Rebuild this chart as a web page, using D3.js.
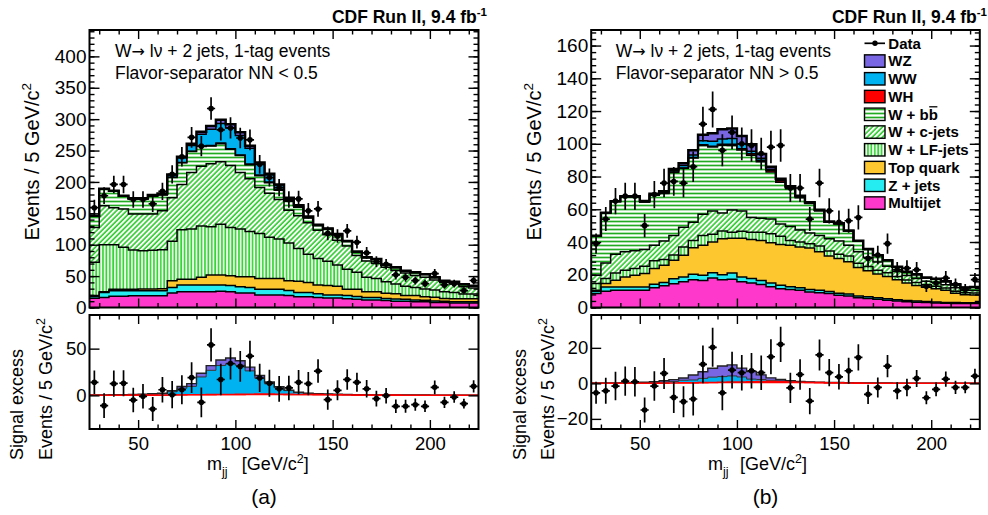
<!DOCTYPE html>
<html><head><meta charset="utf-8">
<script src="https://cdn.jsdelivr.net/npm/d3@7"></script>
<style>
body{margin:0;background:#fff;}
svg text{font-family:"Liberation Sans",Arial,Helvetica,sans-serif;fill:#000;}
</style></head><body>
<svg id="c" width="988" height="515" xmlns="http://www.w3.org/2000/svg"></svg>
<script>
// ---------- categories: lower edges of the 5 GeV/c^2 m_jj bins ----------
const binLow = [25,30,35,40,45,50,55,60,65,70,75,80,85,90,95,100,105,110,115,120,125,130,135,140,145,150,155,160,165,170,175,180,185,190,195,200,205,210,215,220];
const binHigh = 225;

// ---------- tick labels ----------
const xTickVals = [50,100,150,200];
const leftTopTicks = [0,50,100,150,200,250,300,350,400];
const rightTopTicks = [0,20,40,60,80,100,120,140,160];
const leftResTicks = [0,50];
const rightResTicks = [-20,0,20];

// ---------- (a) Flavor-separator NN < 0.5 ----------
const leftMJ  = [14.6,16,17.8,17.8,18.8,18.8,18.8,18.8,23,25,25,25,25,26,25,23,23,20,20,20,19,17,17,16,15,15,14,13,12,12,11,10,10,9,9,8,8,7,7,7];
const leftZ   = [3,8,9,9,8,8,8,8,9,11,11,11,11,10,10,10,9,9,9,9,8,7,7,6,5,5,5,4.5,4,4,3.5,3.5,3,3,2.5,2.5,2,2,2,2];
const leftTop = [1.4,1,2.2,2.2,2.2,2.5,2.5,3,10.7,9,9,12,15.7,15.7,15.6,16,17,17,17,17,15.7,18,16,14,15,13.7,10,11.5,9,9,8,8.5,6,7,5.5,6,4.5,5,5,5];
const leftWLF = [53,75,71,67,62.5,61,62,62,63,79,80,82,77,81,77,76,72,72,66,63,60,52,45,42,38.5,34,32,27,23,21,18.5,15.4,14.7,13,12.4,11.3,10.5,10,7.5,7.5];
const leftWc  = [55.5,62,59,61,57.5,58.7,57.7,62.2,69.3,72,90,95,100.3,99.3,98.4,90,84,73,70,63,52.3,52,50,45,42.5,39.3,37,27,26,24,23,21.6,21.3,19,18.6,16.2,15,13.5,11.5,9.5];
const leftWbb = [18,26.5,26.4,20.2,24,23.7,28.3,25.3,32,34.5,33.4,31.3,28.2,29,26,27,22.3,18.7,16.7,14.8,14.4,13.5,7.6,7.1,8.6,8.8,7,5.3,5.4,6.5,3.6,4.6,3.3,4.7,4.7,3.8,2.5,3.3,3.8,3.5];
const leftWH  = [0.1,0.1,0.1,0.1,0.2,0.2,0.3,0.3,0.4,0.5,0.6,0.7,0.8,0.9,1,1.1,1.2,1.3,1.3,1.2,1.1,1,0.9,0.8,0.6,0.5,0.4,0.3,0.3,0.2,0.2,0.2,0.1,0.1,0.1,0.1,0.1,0.1,0.1,0.1];
const leftWW  = [0.3,0.3,0.4,0.5,0.6,0.8,1,1.5,3.5,7,9,19,26,31,33,31,25,17,11,7,4,2,1.2,0.8,0.6,0.5,0.4,0.3,0.3,0.3,0.2,0.2,0.2,0.2,0.2,0.1,0.1,0.1,0.1,0.1];
const leftWZ  = [0.1,0.1,0.1,0.2,0.2,0.3,0.4,0.5,1,2,3,4,5,6,6,5,4,3,2,1,0.5,0.5,0.3,0.3,0.2,0.2,0.2,0.1,0.1,0.1,0.1,0.1,0.1,0.1,0.1,0.1,0.1,0.1,0.1,0.1];
const leftData   = [159,178,196,196,172,172,165,185,212,240,271,257,317,283,286,270,267,228,207,191,172,173,154,157,118,114,122,104,87,73,69,52,48,43,38,54,36,38,27,43];
const leftExcess = [14,-11,12.5,13,-5,-1,-14.6,6,0.7,6,19,-7.5,54,17,34,31,42,18.6,13,7,8,14,12.5,26,-4.6,5.4,17,14,7,-3.5,-0.3,-11.7,-11.7,-10,-11.7,8.6,-7.5,-1.8,-8.9,9.7];

// ---------- (b) Flavor-separator NN > 0.5 ----------
const rightMJ  = [8.5,10,10.5,10.5,10.5,10.5,12,13.3,14.5,15.8,17,16.5,18,17,17.3,15.8,15,14,12.6,11.5,11,10.5,9.5,9,8.5,7.5,7,6,5.5,5,4.5,4,3.5,3.2,3,2.8,2.6,2.5,2.4,2.4];
const rightZ   = [1.5,2.5,2,2,2,2,2.2,2,3,2.8,3.3,3.2,3.3,3,3.7,2.9,2.7,2.5,2.4,2.1,1.6,1.5,1.5,1.5,1.3,1.2,1.2,1,1,0.9,0.8,0.8,0.7,0.7,0.6,0.6,0.5,0.5,0.5,0.5];
const rightTop = [0.5,2.1,4.2,6.2,7.2,8.2,9.6,10.5,11.4,13.3,16.2,18.3,18.7,22,21.3,23.6,23.8,24.5,24.5,24.9,25.4,25,25.4,23.5,21.7,21.3,19.8,17.5,16,14.6,13.7,12.2,10.8,9.6,8.7,8.1,7.4,5.7,4.9,4.7];
const rightWLF = [4.1,3.1,4.3,4.1,4.1,4.5,4.7,3.5,3.1,5.1,4.5,6,4.7,4.8,3.7,4.2,4.5,5,5.5,5,3,3,2.6,3.5,3,2.5,3.5,2.5,2.5,2.3,2.2,2,1.8,1.7,1.6,1.5,1.4,1.3,1.2,1.2];
const rightWc  = [5.1,9.5,11.5,11.2,10.8,10.2,9.5,11.3,12,12,11,13,14.3,10.9,13.6,12.5,9,8.5,9,7.5,8.5,7.3,6.5,6.5,7.5,8.1,6.5,7,5.5,5,4,3,2.8,2.5,2.2,2.2,2,2,1.6,1.6];
const rightWbb = [24,30.5,32.2,33.6,33,29,30.6,29,38.5,36,39.3,42,39,41.4,39.4,37.2,38,34.5,28.8,25.5,23,19.8,18,15,10,10.4,8.7,6.5,5,3.9,3.5,2.7,2.1,2.4,2,2.2,2,2,1.5,2];
const rightWH  = [0.05,0.05,0.05,0.05,0.1,0.1,0.1,0.15,0.2,0.25,0.3,0.4,0.5,0.6,0.7,0.8,0.9,1,1,0.9,0.8,0.6,0.5,0.4,0.3,0.25,0.2,0.15,0.1,0.1,0.1,0.05,0.05,0.05,0.05,0.05,0.05,0.05,0.05,0.05];
const rightWW  = [0.05,0.05,0.1,0.1,0.1,0.2,0.3,0.5,0.9,1.5,1.6,2.4,3,3.2,3.5,2.8,1.5,1.2,0.7,0.5,0.3,0.2,0.15,0.1,0.1,0.1,0.05,0.05,0.05,0.05,0.05,0.05,0.05,0.05,0.05,0.05,0.05,0.05,0.05,0.05];
const rightWZ  = [0.1,0.1,0.1,0.2,0.2,0.3,0.5,0.8,1,1.3,2.8,3.7,5,6,6.2,5,4.3,2.6,1.4,0.8,0.4,0.3,0.2,0.15,0.1,0.1,0.1,0.1,0.05,0.05,0.05,0.05,0.05,0.05,0.05,0.05,0.05,0.05,0.05,0.05];
const rightData   = [39,54,65,68,68,50,69,76,77,76,86,112,121,96,107,100,99,94,98,99,73,73,54,76,59,52,53,55,30,32,39,23,24,23,13,15,18,14,11,17];
const rightExcess = [-5.3,-4.2,-1.5,1.3,0.9,-15,-1.5,5.6,-7.9,-10.3,-8.8,10.7,20.3,-5.3,7.5,6,7.1,6,15,22,-2.5,5,-10,16,6,3.7,7.1,14.6,-6.2,-2.3,9.7,-4.2,-2.3,2.8,-8.1,-3.4,2.4,-2.3,-2.3,4.1];

// ---------- legend ----------
const legendLabels = ["Data","WZ","WW","WH","W + bb","W + c-jets","W + LF-jets","Top quark","Z + jets","Multijet"];
const legendKeys   = [null,"WZ","WW","WH","Wbb","Wc","WLF","Top","Z","MJ"];

// ---------- styling ----------
const topKeys = ["MJ","Z","Top","WLF","Wc","Wbb","WH","WW","WZ"];
const resKeys = ["WH","WW","WZ"];
const fills = {MJ:"#ff38cc", Z:"#25ecf0", Top:"#fdc72f", WLF:"url(#pV)", Wc:"url(#pD)", Wbb:"url(#pH)", WH:"#ff0000", WW:"#00b3f0", WZ:"#7866e2"};

const svg = d3.select("#c");
const defs = svg.append("defs");
// vertical stripes (W+LF)
const pV = defs.append("pattern").attr("id","pV").attr("patternUnits","userSpaceOnUse").attr("width",3.4).attr("height",10);
pV.append("rect").attr("width",3.4).attr("height",10).attr("fill","#fff");
pV.append("line").attr("x1",1).attr("x2",1).attr("y1",0).attr("y2",10).attr("stroke","#2ed42e").attr("stroke-width",1.7);
// horizontal stripes (W+bb)
const pH = defs.append("pattern").attr("id","pH").attr("patternUnits","userSpaceOnUse").attr("width",10).attr("height",4);
pH.append("rect").attr("width",10).attr("height",4).attr("fill","#fff");
pH.append("line").attr("x1",0).attr("x2",10).attr("y1",1.5).attr("y2",1.5).attr("stroke","#22aa22").attr("stroke-width",1.7);
// diagonal hatch (W+c)
const pD = defs.append("pattern").attr("id","pD").attr("patternUnits","userSpaceOnUse").attr("width",3.6).attr("height",10).attr("patternTransform","rotate(45)");
pD.append("rect").attr("width",3.6).attr("height",10).attr("fill","#fff");
pD.append("line").attr("x1",1).attr("x2",1).attr("y1",0).attr("y2",10).attr("stroke","#2ccc2c").attr("stroke-width",1.6);

const TOP_Y = [307.5, 30], BOT_Y = [429, 315];

function series(prefix){
  return prefix === "left"
    ? {MJ:leftMJ,Z:leftZ,Top:leftTop,WLF:leftWLF,Wc:leftWc,Wbb:leftWbb,WH:leftWH,WW:leftWW,WZ:leftWZ}
    : {MJ:rightMJ,Z:rightZ,Top:rightTop,WLF:rightWLF,Wc:rightWc,Wbb:rightWbb,WH:rightWH,WW:rightWW,WZ:rightWZ};
}

const panels = [
  {id:"a", x0:89.5, x1:478.5, topDom:[0,442], botDom:[-36,86], s:series("left"), data:leftData, excess:leftExcess,
   topTicks:leftTopTicks, topMinor:d3.range(0,441,10), resTicks:leftResTicks,
   text2:"Flavor-separator NN < 0.5", textX:115, gap:"", titleEnd:487, ytX:38.5, yt2X:[23,52], mX:207, bracketX:241.7, tag:"(a)", tagX:264},
  {id:"b", x0:591.2, x1:979.8, topDom:[0,169.5], botDom:[-25.7,38.5], s:series("right"), data:rightData, excess:rightExcess,
   topTicks:rightTopTicks, topMinor:d3.range(0,169,4), resTicks:rightResTicks,
   text2:"Flavor-separator NN > 0.5", textX:615.7, gap:" ", titleEnd:987, ytX:540.5, yt2X:[526,554], mX:708, bracketX:740, tag:"(b)", tagX:765.5, legend:true}
];

function stepPoints(layer){
  const p = layer.map((d,i)=>({x:binLow[i], y0:d[0], y1:d[1]}));
  const last = p[p.length-1];
  p.push({x:binHigh, y0:last.y0, y1:last.y1});
  return p;
}

function styleAxis(g, fs){
  g.select(".domain").remove();
  g.attr("font-family",null).attr("font-size",null);
  g.selectAll(".tick line").attr("stroke","#000").attr("stroke-width",1.4);
  g.selectAll(".tick text").attr("font-size",fs).attr("fill","#000");
}

function frameTicks(g, xs, ys, yMaj, yMin, yOff, yLen, xLen, showX){
  const [yb, yt] = ys.range();
  const fmt = d3.format("d");
  const xMinor = d3.range(30,225,10).filter(v=>v%50);
  const gxb = g.append("g").attr("transform",`translate(0,${yb})`)
    .call(d3.axisBottom(xs).tickValues(xTickVals).tickSize(-xLen).tickPadding(8).tickFormat(showX ? fmt : ""));
  styleAxis(gxb, 18.5);
  styleAxis(g.append("g").attr("transform",`translate(0,${yb})`)
    .call(d3.axisBottom(xs).tickValues(xMinor).tickSize(-xLen/2).tickFormat("")), 10);
  styleAxis(g.append("g").attr("transform",`translate(0,${yt})`)
    .call(d3.axisTop(xs).tickValues(xTickVals).tickSize(-xLen).tickFormat("")), 10);
  styleAxis(g.append("g").attr("transform",`translate(0,${yt})`)
    .call(d3.axisTop(xs).tickValues(xMinor).tickSize(-xLen/2).tickFormat("")), 10);
  const [x0, x1] = xs.range();
  styleAxis(g.append("g").attr("transform",`translate(${x0},0)`)
    .call(d3.axisLeft(ys).tickValues(yMaj).tickSize(-yLen).tickPadding(3).tickFormat(d3.format("d"))), yOff);
  styleAxis(g.append("g").attr("transform",`translate(${x1},0)`)
    .call(d3.axisRight(ys).tickValues(yMaj).tickSize(-yLen).tickFormat("")), 10);
  if (yMin){
    styleAxis(g.append("g").attr("transform",`translate(${x0},0)`)
      .call(d3.axisLeft(ys).tickValues(yMin).tickSize(-yLen/2).tickFormat("")), 10);
    styleAxis(g.append("g").attr("transform",`translate(${x1},0)`)
      .call(d3.axisRight(ys).tickValues(yMin).tickSize(-yLen/2).tickFormat("")), 10);
  }
  g.append("rect").attr("x",x0).attr("y",yt).attr("width",x1-x0).attr("height",yb-yt)
    .attr("fill","none").attr("stroke","#000").attr("stroke-width",2);
}

function drawData(g, xs, ys, vals, errs){
  const dg = g.append("g");
  vals.forEach((v,i)=>{
    const xc = xs(binLow[i]+2.5), e = errs[i];
    dg.append("line").attr("x1",xc).attr("x2",xc).attr("y1",ys(v-e)).attr("y2",ys(v+e))
      .attr("stroke","#000").attr("stroke-width",1.7);
    dg.append("line").attr("x1",xs(binLow[i]+0.4)).attr("x2",xs(binLow[i]+4.6)).attr("y1",ys(v)).attr("y2",ys(v))
      .attr("stroke","#000").attr("stroke-width",1.7);
    dg.append("circle").attr("cx",xc).attr("cy",ys(v)).attr("r",2.8).attr("fill","#000");
  });
}

panels.forEach(P=>{
  const g = svg.append("g");
  const xs = d3.scaleLinear().domain([25,225]).range([P.x0,P.x1]);
  const yT = d3.scaleLinear().domain(P.topDom).range(TOP_Y);
  const yB = d3.scaleLinear().domain(P.botDom).range(BOT_Y);

  defs.append("clipPath").attr("id","clipT"+P.id).append("rect")
    .attr("x",P.x0).attr("y",TOP_Y[1]).attr("width",P.x1-P.x0).attr("height",TOP_Y[0]-TOP_Y[1]);
  defs.append("clipPath").attr("id","clipB"+P.id).append("rect")
    .attr("x",P.x0).attr("y",BOT_Y[1]).attr("width",P.x1-P.x0).attr("height",BOT_Y[0]-BOT_Y[1]);

  // ---------- top: stacked backgrounds ----------
  const rows = binLow.map((b,i)=>{const r={}; topKeys.forEach(k=>r[k]=P.s[k][i]); return r;});
  const stack = d3.stack().keys(topKeys)(rows);
  const gT = g.append("g").attr("clip-path",`url(#clipT${P.id})`);
  const areaT = d3.area().x(d=>xs(d.x)).y0(d=>yT(d.y0)).y1(d=>yT(d.y1)).curve(d3.curveStepAfter);
  const lineT = d3.line().x(d=>xs(d.x)).y(d=>yT(d.y1)).curve(d3.curveStepAfter);
  stack.forEach(layer=>{
    gT.append("path").attr("d",areaT(stepPoints(layer))).attr("fill",fills[layer.key]).attr("stroke","none");
  });
  stack.forEach((layer,li)=>{
    const last = li === stack.length-1;
    gT.append("path").attr("d",lineT(stepPoints(layer))).attr("fill","none")
      .attr("stroke","#000").attr("stroke-width", last ? 2.5 : 1.5);
  });
  drawData(gT, xs, yT, P.data, P.data.map(v=>Math.sqrt(v)));
  frameTicks(g, xs, yT, P.topTicks, P.topMinor, 19, 10, 9, false);

  // ---------- bottom: signal excess ----------
  const rowsB = binLow.map((b,i)=>{const r={}; resKeys.forEach(k=>r[k]=P.s[k][i]); return r;});
  const stackB = d3.stack().keys(resKeys)(rowsB);
  const gB = g.append("g").attr("clip-path",`url(#clipB${P.id})`);
  const areaB = d3.area().x(d=>xs(d.x)).y0(d=>yB(d.y0)).y1(d=>yB(d.y1)).curve(d3.curveStepAfter);
  const lineB = d3.line().x(d=>xs(d.x)).y(d=>yB(d.y1)).curve(d3.curveStepAfter);
  stackB.forEach(layer=>{
    gB.append("path").attr("d",areaB(stepPoints(layer))).attr("fill",fills[layer.key]).attr("stroke","none");
  });
  gB.append("path").attr("d",lineB(stepPoints(stackB[1]))).attr("fill","none").attr("stroke","#333").attr("stroke-width",1);
  gB.append("path").attr("d",lineB(stepPoints(stackB[2]))).attr("fill","none").attr("stroke","#222").attr("stroke-width",1.4);
  gB.append("path").attr("d",lineB(stepPoints(stackB[0]))).attr("fill","none").attr("stroke","#ff0000").attr("stroke-width",1.6);
  drawData(gB, xs, yB, P.excess, P.data.map(v=>Math.sqrt(v)));
  frameTicks(g, xs, yB, P.resTicks, null, 18.5, 10, 9, true);

  // ---------- texts ----------
  const t1 = g.append("text").attr("x",P.titleEnd).attr("y",22.7).attr("text-anchor","end")
    .attr("font-size",17.5).attr("font-weight","bold");
  t1.append("tspan").text("CDF Run II, 9.4 fb");
  t1.append("tspan").attr("dy",-7).attr("font-size",11.5).text("-1");

  const l1 = g.append("text").attr("x",P.textX).attr("y",57).attr("font-size",17.5);
  l1.append("tspan").text("W");
  l1.append("tspan").attr("font-family","DejaVu Sans").attr("font-size",16).text("\u2192");
  l1.append("tspan").text(P.gap + " l\u03bd + 2 jets, 1-tag events");
  g.append("text").attr("x",P.textX).attr("y",78.5).attr("font-size",17.5).text(P.text2);

  const yt = g.append("text").attr("transform",`translate(${P.ytX},83) rotate(-90)`).attr("text-anchor","end").attr("font-size",20);
  yt.append("tspan").text("Events / 5 GeV/c");
  yt.append("tspan").attr("dy",-8).attr("font-size",13.5).text("2");

  g.append("text").attr("transform",`translate(${P.yt2X[0]},460) rotate(-90)`).attr("font-size",18).text("Signal excess");
  const yt2 = g.append("text").attr("transform",`translate(${P.yt2X[1]},460) rotate(-90)`).attr("font-size",18);
  yt2.append("tspan").text("Events / 5 GeV/c");
  yt2.append("tspan").attr("dy",-7).attr("font-size",12.5).text("2");

  const xt = g.append("text").attr("x",P.mX).attr("y",470).attr("font-size",18);
  xt.append("tspan").text("m");
  xt.append("tspan").attr("dy",6).attr("font-size",12.5).text("jj");
  xt.append("tspan").attr("x",P.bracketX).attr("dy",-6).text("[GeV/c");
  xt.append("tspan").attr("dy",-7).attr("font-size",12.5).text("2");
  xt.append("tspan").attr("dy",7).text("]");

  g.append("text").attr("x",P.tagX).attr("y",504).attr("text-anchor","middle").attr("font-size",21).text(P.tag);

  // ---------- legend ----------
  if (P.legend){
    const lg = g.append("g");
    legendLabels.forEach((lab,i)=>{
      const yc = 43.3 + i*17.75;
      const k = legendKeys[i];
      if (k === null){
        lg.append("line").attr("x1",864.5).attr("x2",885).attr("y1",yc).attr("y2",yc).attr("stroke","#000").attr("stroke-width",1.7);
        lg.append("circle").attr("cx",875).attr("cy",yc).attr("r",2.7).attr("fill","#000");
      } else {
        lg.append("rect").attr("x",864.5).attr("y",yc-6.2).attr("width",20.5).attr("height",12.4)
          .attr("fill",fills[k]).attr("stroke","#000").attr("stroke-width",1.4);
      }
      const tx = lg.append("text").attr("x",888.3).attr("y",yc+5.4).attr("font-size",15).attr("font-weight","bold").text(lab);
      if (k === "Wbb"){
        const node = tx.node();
        const s = node.getStartPositionOfChar(5).x, e = node.getEndPositionOfChar(5).x;
        lg.append("line").attr("x1",s+0.5).attr("x2",e-0.5).attr("y1",yc-7.5).attr("y2",yc-7.5).attr("stroke","#000").attr("stroke-width",1.3);
      }
    });
  }
});
</script>
</body></html>
